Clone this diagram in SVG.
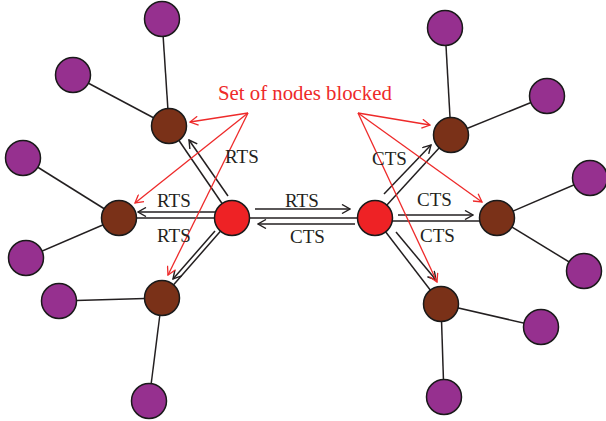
<svg xmlns="http://www.w3.org/2000/svg" width="606" height="421" viewBox="0 0 606 421">
<style>
.lk{stroke:#231f20;stroke-width:1.5;fill:none}
.ar{stroke:#231f20;stroke-width:1.5;fill:none;marker-end:url(#ah)}
.ra{stroke:#ee2a2a;stroke-width:1.3;fill:none;marker-end:url(#rh)}
.pu{fill:#96308f;stroke:#1a1a1a;stroke-width:1.5}
.br{fill:#7a3118;stroke:#1a1a1a;stroke-width:1.5}
.rd{fill:#ee2225;stroke:#1a1a1a;stroke-width:1.5}
.lb{font-family:"Liberation Serif",serif;font-size:19px;fill:#231f20}
.rl{font-family:"Liberation Serif",serif;font-size:20.8px;fill:#ee2a2a}
</style>
<defs>
<marker id="ah" viewBox="0 0 10 10" refX="9" refY="5" markerWidth="10" markerHeight="10" markerUnits="userSpaceOnUse" orient="auto"><path d="M1,0.5 L9,5 L1,9.5" fill="none" stroke="#231f20" stroke-width="1.4"/></marker>
<marker id="rh" viewBox="0 0 10 10" refX="9" refY="5" markerWidth="10" markerHeight="10" markerUnits="userSpaceOnUse" orient="auto"><path d="M1,0.5 L9,5 L1,9.5" fill="none" stroke="#ee2a2a" stroke-width="1.3"/></marker>
</defs>
<g id="connectors">
<line class="lk" x1="169" y1="126" x2="162" y2="19"/>
<line class="lk" x1="169" y1="126" x2="73" y2="75"/>
<line class="lk" x1="119" y1="218" x2="23" y2="158"/>
<line class="lk" x1="119" y1="218" x2="26" y2="258"/>
<line class="lk" x1="162" y1="298" x2="59" y2="301"/>
<line class="lk" x1="162" y1="298" x2="149" y2="401"/>
<line class="lk" x1="451" y1="135" x2="445" y2="28"/>
<line class="lk" x1="451" y1="135" x2="547" y2="96"/>
<line class="lk" x1="497" y1="218" x2="590" y2="178"/>
<line class="lk" x1="497" y1="218" x2="584" y2="271"/>
<line class="lk" x1="441" y1="304" x2="541" y2="327"/>
<line class="lk" x1="441" y1="304" x2="444" y2="397"/>
<line class="lk" x1="232" y1="218" x2="169" y2="126"/>
<line class="lk" x1="232" y1="218" x2="119" y2="218"/>
<line class="lk" x1="232" y1="218" x2="162" y2="298"/>
<line class="lk" x1="232" y1="218" x2="375" y2="218"/>
<line class="lk" x1="375" y1="218" x2="451" y2="135"/>
<line class="lk" x1="375" y1="221" x2="497" y2="221"/>
<line class="lk" x1="375" y1="218" x2="441" y2="304"/>
<line class="ar" x1="228" y1="196" x2="189" y2="140"/>
<line class="ar" x1="215" y1="212" x2="138" y2="212"/>
<line class="ar" x1="215" y1="231" x2="173" y2="279"/>
<line class="ar" x1="255" y1="209" x2="350" y2="209"/>
<line class="ar" x1="355" y1="224" x2="258" y2="224"/>
<line class="ar" x1="384" y1="194" x2="431" y2="145"/>
<line class="ar" x1="398" y1="215" x2="473" y2="215"/>
<line class="ar" x1="396" y1="232" x2="436" y2="280"/>
<line class="ra" x1="248" y1="113" x2="190" y2="122"/>
<line class="ra" x1="248" y1="113" x2="135" y2="203"/>
<line class="ra" x1="248" y1="113" x2="168" y2="275"/>
<line class="ra" x1="358" y1="113" x2="430" y2="125"/>
<line class="ra" x1="358" y1="113" x2="482" y2="202"/>
<line class="ra" x1="358" y1="113" x2="437" y2="282"/>
</g>
<g id="p1"><circle class="pu" cx="162" cy="19" r="17.5"/></g>
<g id="p2"><circle class="pu" cx="73" cy="75" r="17.5"/></g>
<g id="p3"><circle class="pu" cx="23" cy="158" r="17.5"/></g>
<g id="p4"><circle class="pu" cx="26" cy="258" r="17.5"/></g>
<g id="p5"><circle class="pu" cx="59" cy="301" r="17.5"/></g>
<g id="p6"><circle class="pu" cx="149" cy="401" r="17.5"/></g>
<g id="p7"><circle class="pu" cx="445" cy="28" r="17.5"/></g>
<g id="p8"><circle class="pu" cx="547" cy="96" r="17.5"/></g>
<g id="p9"><circle class="pu" cx="590" cy="178" r="17.5"/></g>
<g id="p10"><circle class="pu" cx="584" cy="271" r="17.5"/></g>
<g id="p11"><circle class="pu" cx="541" cy="327" r="17.5"/></g>
<g id="p12"><circle class="pu" cx="444" cy="397" r="17.5"/></g>
<g id="b1"><circle class="br" cx="169" cy="126" r="17.5"/></g>
<g id="b2"><circle class="br" cx="119" cy="218" r="17.5"/></g>
<g id="b3"><circle class="br" cx="162" cy="298" r="17.5"/></g>
<g id="b4"><circle class="br" cx="451" cy="135" r="17.5"/></g>
<g id="b5"><circle class="br" cx="497" cy="218" r="17.5"/></g>
<g id="b6"><circle class="br" cx="441" cy="304" r="17.5"/></g>
<g id="r1"><circle class="rd" cx="232" cy="218" r="17.5"/></g>
<g id="r2"><circle class="rd" cx="375" cy="218" r="17.5"/></g>
<g id="labels">
<text class="rl" x="218" y="100">Set of nodes blocked</text>
<text class="lb" x="225" y="163">RTS</text>
<text class="lb" x="157" y="207">RTS</text>
<text class="lb" x="157" y="242">RTS</text>
<text class="lb" x="285" y="207">RTS</text>
<text class="lb" x="290" y="243">CTS</text>
<text class="lb" x="372" y="165">CTS</text>
<text class="lb" x="417" y="206">CTS</text>
<text class="lb" x="420" y="242">CTS</text>
</g>
</svg>
